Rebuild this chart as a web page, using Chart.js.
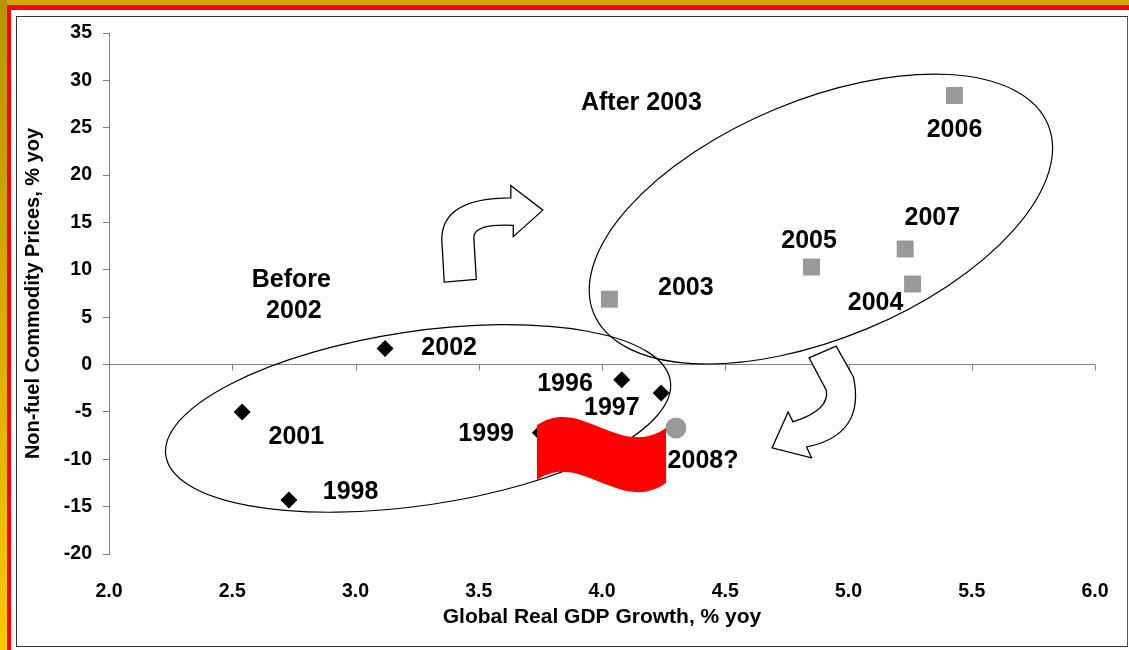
<!DOCTYPE html>
<html>
<head>
<meta charset="utf-8">
<script src="https://cdn.jsdelivr.net/npm/chart.js@4.4.0/dist/chart.umd.min.js"></script>
<style>
  html, body { margin: 0; padding: 0; background: #fff; }
  #wrap { position: relative; width: 1129px; height: 650px; overflow: hidden; }
  .gold-top { position: absolute; left: 0; top: 0; width: 1129px; height: 5px; background: #d2a800; }
  .gold-left { position: absolute; left: 0; top: 0; width: 7px; height: 650px; background: linear-gradient(#b89400, #f7c800); }
  .red-top { position: absolute; left: 7px; top: 5px; width: 1122px; height: 5px; background: #ff0000; }
  .red-left { position: absolute; left: 7px; top: 5px; width: 4px; height: 645px; background: #ff0000; }
  .frame { position: absolute; left: 16px; top: 16px; width: 1110px; height: 629px; border: 1.5px solid #333; border-right-color: #555; }
  canvas { position: absolute; left: 0; top: 0; }
</style>
</head>
<body>
<div id="wrap">
  <div class="gold-top"></div>
  <div class="gold-left"></div>
  <div class="red-top"></div>
  <div class="red-left"></div>
  <div class="frame"></div>
  <canvas id="chart" width="1129" height="650"></canvas>
</div>
<script>
// before 2002: black diamonds
const beforeYears = ['1996', '1997', '1998', '1999', '2001', '2002'];
const beforeGdp = [4.08, 4.24, 2.73, 3.75, 2.54, 3.12];
const beforePrices = [-1.6, -3.0, -14.3, -7.2, -5.0, 1.7];

// after 2003: grey squares
const afterYears = ['2003', '2004', '2005', '2006', '2007'];
const afterGdp = [4.03, 5.26, 4.85, 5.43, 5.23];
const afterPrices = [6.9, 8.5, 10.3, 28.4, 12.2];

// forecast
const forecastGdp = [4.30];
const forecastPrices = [-6.7];

const xTicks = [2.0, 2.5, 3.0, 3.5, 4.0, 4.5, 5.0, 5.5, 6.0];
const yTicks = [-20, -15, -10, -5, 0, 5, 10, 15, 20, 25, 30, 35];

// text annotations, placed in data units
const notes = [
  ['After 2003', 4.16, 27.6], ['2006', 5.43, 24.7], ['2007', 5.34, 15.5],
  ['2005', 4.84, 13.0], ['2003', 4.34, 8.1], ['2004', 5.11, 6.5],
  ['Before', 2.74, 8.9], ['2002', 2.75, 5.6], ['2002', 3.38, 1.75],
  ['1996', 3.85, -2.05], ['1997', 4.04, -4.6], ['1999', 3.53, -7.35],
  ['2001', 2.76, -7.65], ['1998', 2.98, -13.5], ['2008?', 4.41, -10.2]
];

const FONT = 'Liberation Sans, Arial, sans-serif';

const toPoints = (xs, ys) => xs.map((v, i) => ({ x: v, y: ys[i] }));

// shapes drawn on top (data units)
const arrowUp = [
  ['M', 3.36, 8.7], ['L', 3.49, 9.0], ['L', 3.48, 13.4],
  ['Q', 3.48, 14.9, 3.64, 14.7], ['L', 3.64, 13.5], ['L', 3.76, 16.3],
  ['L', 3.63, 18.9], ['L', 3.63, 17.6], ['Q', 3.35, 17.6, 3.35, 13.2]
];
const arrowDown = [
  ['M', 4.84, 0.7], ['L', 4.95, 1.95], ['L', 5.02, -1.3],
  ['Q', 5.07, -7.45, 4.83, -8.7], ['L', 4.85, -9.85], ['L', 4.69, -8.8],
  ['L', 4.755, -5.0], ['L', 4.775, -6.05], ['Q', 4.925, -4.8, 4.91, -2.7]
];
const flag = [
  ['M', 3.736, -6.4], ['C', 3.911, -3.2, 4.073, -10.1, 4.26, -6.7],
  ['L', 4.26, -12.5], ['C', 4.073, -15.9, 3.911, -9.0, 3.736, -12.2]
];

function tracePath(ctx, x, y, path) {
  ctx.beginPath();
  path.forEach(s => {
    const p = [];
    for (let i = 1; i < s.length; i += 2) p.push(x.getPixelForValue(s[i]), y.getPixelForValue(s[i + 1]));
    if (s[0] === 'M') ctx.moveTo(p[0], p[1]);
    else if (s[0] === 'L') ctx.lineTo(p[0], p[1]);
    else if (s[0] === 'Q') ctx.quadraticCurveTo(p[0], p[1], p[2], p[3]);
    else ctx.bezierCurveTo(p[0], p[1], p[2], p[3], p[4], p[5]);
  });
  ctx.closePath();
}

function ellipse(ctx, x, y, cx, cy, rx, ry, deg) {
  ctx.beginPath();
  ctx.ellipse(x.getPixelForValue(cx), y.getPixelForValue(cy), rx, ry, deg * Math.PI / 180, 0, Math.PI * 2);
  ctx.stroke();
}

const decor = {
  id: 'decor',
  beforeDatasetsDraw(chart) {
    const { ctx, scales: { x, y } } = chart;
    const y0 = y.getPixelForValue(0);
    ctx.save();
    ctx.strokeStyle = '#808080';
    ctx.lineWidth = 1;
    ctx.beginPath();
    ctx.moveTo(x.left, y0);
    ctx.lineTo(x.right, y0);
    xTicks.slice(1).forEach(v => {
      const px = Math.round(x.getPixelForValue(v)) + 0.5;
      ctx.moveTo(px, y0);
      ctx.lineTo(px, y0 + 6);
    });
    ctx.stroke();
    ctx.restore();
  },
  afterDatasetsDraw(chart) {
    const { ctx, scales: { x, y } } = chart;
    ctx.save();
    ctx.strokeStyle = '#000';
    ctx.lineWidth = 1.2;
    ellipse(ctx, x, y, 3.254, -5.69, 255, 87, -8.4);
    ellipse(ctx, x, y, 4.888, 15.36, 246, 119, -22.6);

    ctx.fillStyle = '#fff';
    ctx.lineWidth = 1.3;
    [arrowUp, arrowDown].forEach(a => {
      tracePath(ctx, x, y, a);
      ctx.fill();
      ctx.stroke();
    });

    ctx.fillStyle = '#ff0000';
    tracePath(ctx, x, y, flag);
    ctx.fill();

    ctx.fillStyle = '#000';
    ctx.font = 'bold 25px ' + FONT;
    ctx.textAlign = 'center';
    ctx.textBaseline = 'middle';
    notes.forEach(n => ctx.fillText(n[0], x.getPixelForValue(n[1]), y.getPixelForValue(n[2])));
    ctx.restore();
  }
};

new Chart(document.getElementById('chart'), {
  type: 'scatter',
  data: {
    datasets: [
      {
        label: 'Before 2002',
        data: toPoints(beforeGdp, beforePrices),
        pointStyle: 'rectRot',
        pointRadius: 8.5,
        backgroundColor: '#000',
        borderColor: '#000',
        borderWidth: 0
      },
      {
        label: 'After 2003',
        data: toPoints(afterGdp, afterPrices),
        pointStyle: 'rect',
        pointRadius: 12,
        backgroundColor: '#999999',
        borderColor: '#999999',
        borderWidth: 0
      },
      {
        label: '2008?',
        data: toPoints(forecastGdp, forecastPrices),
        pointStyle: 'circle',
        pointRadius: 10.5,
        backgroundColor: '#999999',
        borderColor: '#999999',
        borderWidth: 0
      }
    ]
  },
  options: {
    responsive: false,
    animation: false,
    layout: { padding: { left: 0, top: 33, right: 34, bottom: 0 } },
    plugins: { legend: { display: false }, tooltip: { enabled: false } },
    scales: {
      x: {
        type: 'linear',
        min: 2, max: 6,
        afterBuildTicks: s => { s.ticks = xTicks.map(v => ({ value: v })); },
        afterFit: s => { s.height = 96; },
        grid: { display: false },
        border: { display: false },
        ticks: {
          padding: 18,
          color: '#000',
          font: { family: FONT, size: 19.5, weight: 'bold' },
          callback: v => Number(v).toFixed(1)
        },
        title: {
          display: true,
          text: 'Global Real GDP Growth, % yoy',
          color: '#000',
          font: { family: FONT, size: 21, weight: 'bold' },
          padding: { top: 0, bottom: 20 }
        }
      },
      y: {
        type: 'linear',
        min: -20, max: 35,
        afterBuildTicks: s => { s.ticks = yTicks.map(v => ({ value: v })); },
        afterFit: s => { s.width = 109; },
        grid: {
          drawOnChartArea: false,
          drawTicks: true,
          tickLength: 6,
          color: '#808080',
          tickColor: '#808080'
        },
        border: { display: true, color: '#808080', width: 1 },
        ticks: {
          padding: 11,
          color: '#000',
          font: { family: FONT, size: 19.5, weight: 'bold' }
        },
        title: {
          display: true,
          text: 'Non-fuel Commodity Prices, % yoy',
          color: '#000',
          font: { family: FONT, size: 20, weight: 'bold' },
          padding: { top: 21, bottom: 0 }
        }
      }
    }
  },
  plugins: [decor]
});
</script>
</body>
</html>
